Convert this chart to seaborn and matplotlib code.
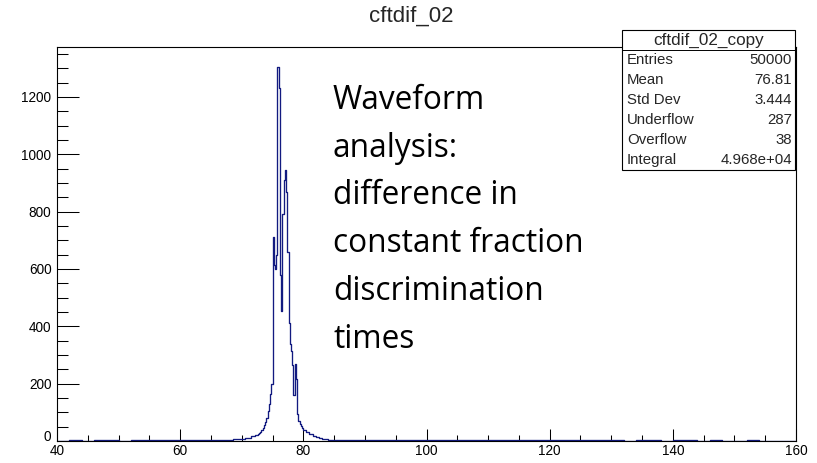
import numpy as np
import pandas as pd
import seaborn as sns
import matplotlib.pyplot as plt
from matplotlib.patches import Rectangle
from matplotlib.lines import Line2D

# --- histogram contents (cftdif_02) ---
# far left tail, 2-unit bins from 40 to 66
tail_left = [1, 2, 1, 2, 2, 1, 2, 2, 3, 2, 2, 3, 3]
# left shoulder, 0.5-unit bins from 66 to 72
shoulder_left = [2, 3, 3, 4, 5, 6, 6, 7, 8, 9, 12, 16]
# core of the peak, 0.2-unit bins from 72 to 80
peak_counts = [18, 20, 22, 25, 28, 32, 37, 44, 55, 68,
               80, 105, 130, 165, 200, 712, 615, 600, 650, 1305,
               1230, 580, 454, 790, 910, 946, 870, 660, 410, 340,
               315, 265, 160, 270, 215, 95, 70, 60, 52, 45]
# right shoulder, 0.5-unit bins from 80 to 86
shoulder_right = [38, 30, 24, 19, 15, 11, 8, 6, 5, 4, 3, 3]
# far right tail, 2-unit bins from 86 to 160
tail_right = [3, 3, 2, 3, 2, 2, 3, 2, 2, 2, 2, 3, 2, 2, 2, 2, 3, 2, 2,
              2, 2, 2, 2, 1, 2, 2, 1, 2, 2, 1, 2, 1, 1, 2, 1, 1, 1]

stats_rows = [("Entries", "50000"), ("Mean", "76.81"), ("Std Dev", "3.444"),
              ("Underflow", "287"), ("Overflow", "38"), ("Integral", "4.968e+04")]

# bin edges for each segment
edges = np.concatenate([
    np.linspace(40, 66, len(tail_left) + 1)[:-1],
    np.linspace(66, 72, len(shoulder_left) + 1)[:-1],
    np.linspace(72, 80, len(peak_counts) + 1)[:-1],
    np.linspace(80, 86, len(shoulder_right) + 1)[:-1],
    np.linspace(86, 160, len(tail_right) + 1),
])
counts = np.array(tail_left + shoulder_left + peak_counts + shoulder_right + tail_right, float)
centers = 0.5 * (edges[:-1] + edges[1:])
df = pd.DataFrame({"t": centers, "n": counts})

sns.set_theme(style="ticks")
plt.rcParams["font.family"] = ["Liberation Sans", "DejaVu Sans"]

W, H = 817, 463
fig = plt.figure(figsize=(W / 100, H / 100), dpi=100)
left_px, right_px, top_px, bot_px = 57, 796, 47, 441
ax = fig.add_axes([left_px / W, 1 - bot_px / H, (right_px - left_px) / W, (bot_px - top_px) / H])

sns.histplot(data=df, x="t", weights="n", bins=edges.tolist(), element="step", fill=False,
             color="#121a80", linewidth=0.95, ax=ax)

ax.set_xlim(40, 160)
ax.set_ylim(0, 1374)
ax.set_xlabel("")
ax.set_ylabel("")
ax.set_xticks(np.arange(40, 161, 20))
ax.set_xticks(np.arange(40, 161, 5), minor=True)
ax.set_yticks(np.arange(0, 1201, 200))
ax.set_yticks(np.arange(0, 1351, 50), minor=True)
ax.tick_params(axis="both", which="both", direction="in", width=0.75, color="black",
               labelsize=9.8, labelcolor="black")
ax.tick_params(axis="x", which="major", length=8.6, pad=2)
ax.tick_params(axis="x", which="minor", length=4.3)
ax.tick_params(axis="y", which="major", length=15.5, pad=4)
ax.tick_params(axis="y", which="minor", length=7.8)
for s in ax.spines.values():
    s.set_visible(True)
    s.set_linewidth(0.8)
    s.set_color("black")
# the "0" label sits on the axis line instead of being centred on it
ax.get_yticklabels()[0].set_va("baseline")

fig.text(0.503, 1 - 16 / H, "cftdif_02", ha="center", va="center", fontsize=16)

# statistics box
x0, x1 = 622 / W, 795 / W
y_top, y_bot = 1 - 30 / H, 1 - 170 / H
fig.patches.append(Rectangle((x0, y_bot), x1 - x0, y_top - y_bot, transform=fig.transFigure,
                             facecolor="white", edgecolor="black", linewidth=0.8, zorder=5))
row_h = (y_top - y_bot) / 7
fig.lines.append(Line2D([x0, x1], [y_top - row_h, y_top - row_h], transform=fig.transFigure,
                        color="black", linewidth=0.7, zorder=6))
fig.text((x0 + x1) / 2, y_top - row_h / 2, "cftdif_02_copy", ha="center", va="center",
         fontsize=12.3, zorder=7)
for i, (k, v) in enumerate(stats_rows):
    yc = y_top - row_h * (i + 1.5)
    fig.text(x0 + 5 / W, yc, k, ha="left", va="center", fontsize=10.8, zorder=7)
    fig.text(x1 - 3 / W, yc, v, ha="right", va="center", fontsize=10.8, zorder=7)

# annotation
fig.text(333 / W, 1 - 84 / H,
         "Waveform\nanalysis:\ndifference in\nconstant fraction\ndiscrimination\ntimes",
         ha="left", va="top", fontsize=22.8, linespacing=1.59,
         family=["Open Sans", "DejaVu Sans"], color="black")

fig.savefig("out.png", dpi=100)
